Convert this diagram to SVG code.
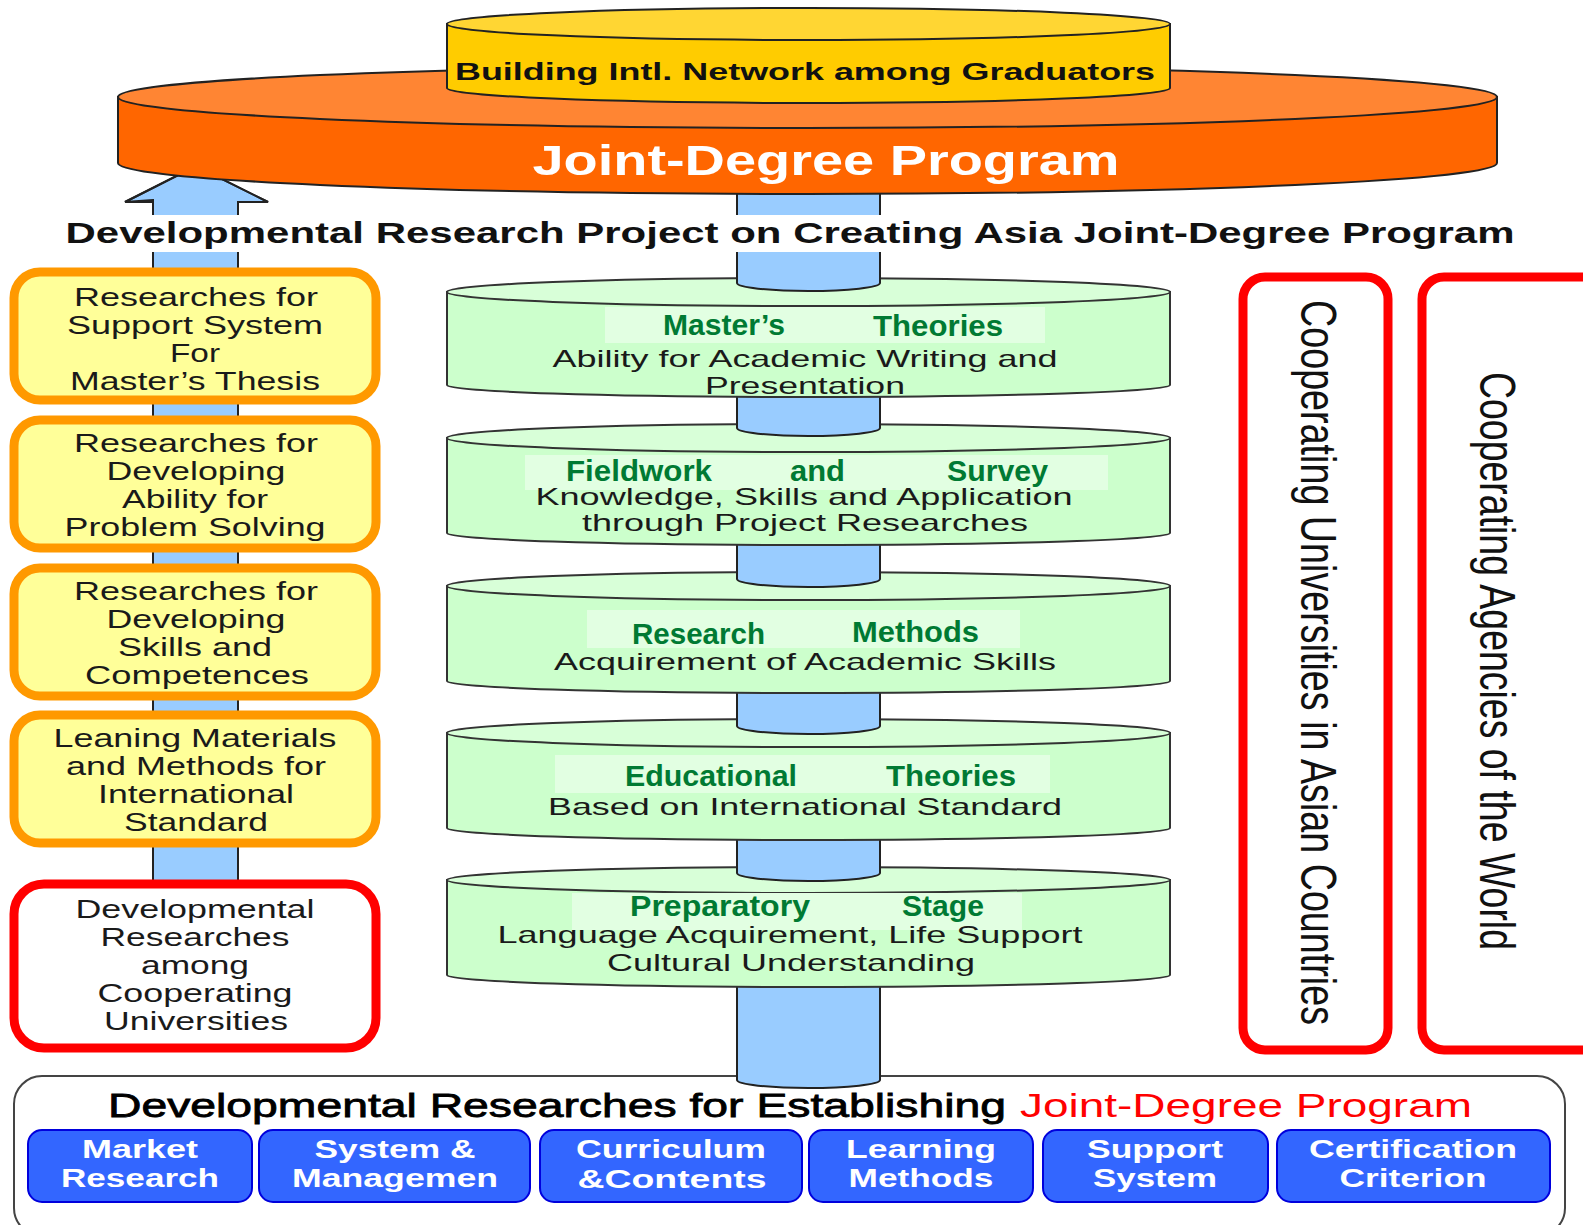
<svg xmlns="http://www.w3.org/2000/svg" width="1583" height="1225" viewBox="0 0 1583 1225">
<style>
text{font-family:"Liberation Sans",Arial,sans-serif;}
.lb{font-size:25px;fill:#1a1a1a;text-anchor:middle;}
.gw{font-size:29px;font-weight:bold;fill:#007A33;}
.gs{font-size:24px;fill:#1a1a1a;text-anchor:middle;}
.bt{font-size:26px;font-weight:bold;fill:#fff;text-anchor:middle;}
.vt{font-size:50px;fill:#111;}
.cylb{fill:#CCFFCC;stroke:#333;stroke-width:2;}
.cylt{fill:#D8FFD8;stroke:#333;stroke-width:2;}
.txbg{fill:#E2FFE2;}
.seg{fill:#99CCFF;stroke:#222;stroke-width:2;}
.ybox{fill:#FFFF99;stroke:#FF9900;stroke-width:9;}
.rbox{fill:#fff;stroke:#FF0000;stroke-width:9;}
.btn{fill:#3366FF;stroke:#0000DD;stroke-width:2;}
</style>
<rect x="0" y="0" width="1583" height="1225" fill="#fff"/>

<!-- bottom box -->
<g id="bottom-panel">
<rect x="14" y="1076" width="1551" height="160" rx="28" fill="#fff" stroke="#444" stroke-width="2"/>
<text x="108" y="1117" font-size="34" fill="#000" stroke="#000" stroke-width="0.8" textLength="898" lengthAdjust="spacingAndGlyphs">Developmental Researches for Establishing</text>
<text x="1020" y="1117" font-size="34" fill="#FF0000" textLength="452" lengthAdjust="spacingAndGlyphs">Joint-Degree Program</text>
</g>
<g id="btn-market"><rect class="btn" x="28" y="1130" width="224" height="72" rx="14"/><text class="bt" x="140" y="1158" textLength="116" lengthAdjust="spacingAndGlyphs">Market</text><text class="bt" x="140" y="1187" textLength="158" lengthAdjust="spacingAndGlyphs">Research</text></g>
<g id="btn-system"><rect class="btn" x="259" y="1130" width="271" height="72" rx="14"/><text class="bt" x="395" y="1158" textLength="161" lengthAdjust="spacingAndGlyphs">System &amp;</text><text class="bt" x="395" y="1187" textLength="206" lengthAdjust="spacingAndGlyphs">Managemen</text></g>
<g id="btn-curriculum"><rect class="btn" x="540" y="1130" width="262" height="72" rx="14"/><text class="bt" x="671" y="1158" textLength="190" lengthAdjust="spacingAndGlyphs">Curriculum</text><text class="bt" x="672" y="1188" textLength="189" lengthAdjust="spacingAndGlyphs">&amp;Contents</text></g>
<g id="btn-learning"><rect class="btn" x="809" y="1130" width="224" height="72" rx="14"/><text class="bt" x="921" y="1158" textLength="150" lengthAdjust="spacingAndGlyphs">Learning</text><text class="bt" x="921" y="1187" textLength="145" lengthAdjust="spacingAndGlyphs">Methods</text></g>
<g id="btn-support"><rect class="btn" x="1043" y="1130" width="225" height="72" rx="14"/><text class="bt" x="1155" y="1158" textLength="136" lengthAdjust="spacingAndGlyphs">Support</text><text class="bt" x="1155" y="1187" textLength="124" lengthAdjust="spacingAndGlyphs">System</text></g>
<g id="btn-cert"><rect class="btn" x="1277" y="1130" width="273" height="72" rx="14"/><text class="bt" x="1413" y="1158" textLength="208" lengthAdjust="spacingAndGlyphs">Certification</text><text class="bt" x="1413" y="1187" textLength="147" lengthAdjust="spacingAndGlyphs">Criterion</text></g>

<!-- connectors: arrow shaft and central column -->
<g id="connectors">
<path class="seg" d="M153,200 L125,202 L196,166 L268,202 L238,202 L238,885 L153,885 Z" stroke="none"/>
<path d="M125,202 L196,166 L268,202 L238,202 M153,202 L125,202" fill="none" stroke="#222" stroke-width="2"/>
<line x1="153" y1="202" x2="153" y2="885" stroke="#222" stroke-width="2"/>
<line x1="238" y1="202" x2="238" y2="885" stroke="#222" stroke-width="2"/>
<path class="seg" d="M737,975 V1080 A71.5,8 0 0 0 880,1080 V975"/>
</g>

<!-- cylinder 5 -->
<g id="stage-preparatory">
<path class="cylb" d="M447,880 V975 A361.5,12 0 0 0 1170,975 V880 Z"/>
<ellipse class="cylt" cx="808.5" cy="880" rx="361.5" ry="13"/>
<rect class="txbg" x="572" y="893" width="450" height="37"/>
<text class="gw" x="630" y="916" textLength="180" lengthAdjust="spacingAndGlyphs">Preparatory</text>
<text class="gw" x="902" y="916" textLength="82" lengthAdjust="spacingAndGlyphs">Stage</text>
<text class="gs" x="790" y="943" textLength="585" lengthAdjust="spacingAndGlyphs">Language Acquirement, Life Support</text>
<text class="gs" x="791" y="971" textLength="368" lengthAdjust="spacingAndGlyphs">Cultural Understanding</text>
</g>
<path class="seg" d="M737,830 V873 A71.5,8 0 0 0 880,873 V830"/>

<!-- cylinder 4 -->
<g id="stage-educational">
<path class="cylb" d="M447,733 V828 A361.5,12 0 0 0 1170,828 V733 Z"/>
<ellipse class="cylt" cx="808.5" cy="733" rx="361.5" ry="14"/>
<rect class="txbg" x="555" y="755" width="495" height="38"/>
<text class="gw" x="625" y="786" textLength="172" lengthAdjust="spacingAndGlyphs">Educational</text>
<text class="gw" x="886" y="786" textLength="130" lengthAdjust="spacingAndGlyphs">Theories</text>
<text class="gs" x="805" y="815" textLength="514" lengthAdjust="spacingAndGlyphs">Based on International Standard</text>
</g>
<path class="seg" d="M737,683 V726 A71.5,8 0 0 0 880,726 V683"/>

<!-- cylinder 3 -->
<g id="stage-research">
<path class="cylb" d="M447,586 V681 A361.5,12 0 0 0 1170,681 V586 Z"/>
<ellipse class="cylt" cx="808.5" cy="586" rx="361.5" ry="14"/>
<rect class="txbg" x="587" y="610" width="433" height="38"/>
<text class="gw" x="632" y="644" textLength="133" lengthAdjust="spacingAndGlyphs">Research</text>
<text class="gw" x="852" y="642" textLength="127" lengthAdjust="spacingAndGlyphs">Methods</text>
<text class="gs" x="805" y="670" textLength="502" lengthAdjust="spacingAndGlyphs">Acquirement of Academic Skills</text>
</g>
<path class="seg" d="M737,535 V579 A71.5,8 0 0 0 880,579 V535"/>

<!-- cylinder 2 -->
<g id="stage-fieldwork">
<path class="cylb" d="M447,438 V533 A361.5,12 0 0 0 1170,533 V438 Z"/>
<ellipse class="cylt" cx="808.5" cy="438" rx="361.5" ry="14"/>
<rect class="txbg" x="525" y="455" width="583" height="35"/>
<text class="gw" x="566" y="481" textLength="146" lengthAdjust="spacingAndGlyphs">Fieldwork</text>
<text class="gw" x="790" y="481" textLength="55" lengthAdjust="spacingAndGlyphs">and</text>
<text class="gw" x="947" y="481" textLength="101" lengthAdjust="spacingAndGlyphs">Survey</text>
<text class="gs" x="804" y="505" textLength="537" lengthAdjust="spacingAndGlyphs">Knowledge, Skills and Application</text>
<text class="gs" x="805" y="531" textLength="446" lengthAdjust="spacingAndGlyphs">through Project Researches</text>
</g>
<path class="seg" d="M737,387 V428 A71.5,8 0 0 0 880,428 V387"/>

<!-- cylinder 1 -->
<g id="stage-masters">
<path class="cylb" d="M447,292 V385 A361.5,12 0 0 0 1170,385 V292 Z"/>
<ellipse class="cylt" cx="808.5" cy="292" rx="361.5" ry="14"/>
<rect class="txbg" x="605" y="307" width="440" height="36"/>
<text class="gw" x="663" y="335" textLength="122" lengthAdjust="spacingAndGlyphs">Master’s</text>
<text class="gw" x="873" y="336" textLength="130" lengthAdjust="spacingAndGlyphs">Theories</text>
<text class="gs" x="805" y="367" textLength="505" lengthAdjust="spacingAndGlyphs">Ability for Academic Writing and</text>
<text class="gs" x="805" y="394" textLength="200" lengthAdjust="spacingAndGlyphs">Presentation</text>
</g>
<path class="seg" d="M737,180 V283 A71.5,8 0 0 0 880,283 V180"/>

<!-- orange cylinder -->
<g id="joint-degree">
<path d="M118,97 V163 A689.5,31 0 0 0 1497,163 V97 Z" fill="#FF6600" stroke="#222" stroke-width="2"/>
<ellipse cx="807.5" cy="97" rx="689.5" ry="31" fill="#FF8533" stroke="#222" stroke-width="2"/>
<text x="826" y="175" font-size="42" font-weight="bold" fill="#fff" text-anchor="middle" textLength="587" lengthAdjust="spacingAndGlyphs">Joint-Degree Program</text>
</g>

<!-- yellow cylinder -->
<g id="network">
<path d="M447,24 V88 A361.5,15 0 0 0 1170,88 V24 Z" fill="#FFCC00" stroke="#222" stroke-width="2"/>
<ellipse cx="808.5" cy="24" rx="361.5" ry="16" fill="#FFD633" stroke="#222" stroke-width="2"/>
<text x="805" y="80" font-size="24" font-weight="bold" fill="#111" text-anchor="middle" textLength="700" lengthAdjust="spacingAndGlyphs">Building Intl. Network among Graduators</text>
</g>

<!-- header -->
<g id="header">
<rect x="58" y="215" width="1465" height="37" fill="#fff"/>
<text x="790" y="243" font-size="30" font-weight="bold" fill="#111" text-anchor="middle" textLength="1449" lengthAdjust="spacingAndGlyphs">Developmental Research Project on Creating Asia Joint-Degree Program</text>
</g>

<!-- left boxes -->
<g id="box-thesis">
<rect class="ybox" x="14" y="272" width="362" height="128" rx="26"/>
<text class="lb" x="196" y="306" textLength="244" lengthAdjust="spacingAndGlyphs">Researches for</text>
<text class="lb" x="195" y="334" textLength="256" lengthAdjust="spacingAndGlyphs">Support System</text>
<text class="lb" x="195" y="362" textLength="50" lengthAdjust="spacingAndGlyphs">For</text>
<text class="lb" x="195" y="390" textLength="250" lengthAdjust="spacingAndGlyphs">Master’s Thesis</text>
</g>
<g id="box-problem">
<rect class="ybox" x="14" y="420" width="362" height="128" rx="26"/>
<text class="lb" x="196" y="452" textLength="244" lengthAdjust="spacingAndGlyphs">Researches for</text>
<text class="lb" x="196" y="480" textLength="179" lengthAdjust="spacingAndGlyphs">Developing</text>
<text class="lb" x="195" y="508" textLength="146" lengthAdjust="spacingAndGlyphs">Ability for</text>
<text class="lb" x="195" y="536" textLength="261" lengthAdjust="spacingAndGlyphs">Problem Solving</text>
</g>
<g id="box-skills">
<rect class="ybox" x="14" y="568" width="362" height="128" rx="26"/>
<text class="lb" x="196" y="600" textLength="244" lengthAdjust="spacingAndGlyphs">Researches for</text>
<text class="lb" x="196" y="628" textLength="179" lengthAdjust="spacingAndGlyphs">Developing</text>
<text class="lb" x="195" y="656" textLength="154" lengthAdjust="spacingAndGlyphs">Skills and</text>
<text class="lb" x="197" y="684" textLength="224" lengthAdjust="spacingAndGlyphs">Competences</text>
</g>
<g id="box-materials">
<rect class="ybox" x="14" y="715" width="362" height="128" rx="26"/>
<text class="lb" x="195" y="747" textLength="283" lengthAdjust="spacingAndGlyphs">Leaning Materials</text>
<text class="lb" x="196" y="775" textLength="260" lengthAdjust="spacingAndGlyphs">and Methods for</text>
<text class="lb" x="196" y="803" textLength="196" lengthAdjust="spacingAndGlyphs">International</text>
<text class="lb" x="196" y="831" textLength="144" lengthAdjust="spacingAndGlyphs">Standard</text>
</g>
<g id="box-cooperating">
<rect class="rbox" x="14" y="884" width="362" height="164" rx="30"/>
<text class="lb" x="195" y="918" textLength="239" lengthAdjust="spacingAndGlyphs">Developmental</text>
<text class="lb" x="195" y="946" textLength="189" lengthAdjust="spacingAndGlyphs">Researches</text>
<text class="lb" x="195" y="974" textLength="108" lengthAdjust="spacingAndGlyphs">among</text>
<text class="lb" x="195" y="1002" textLength="195" lengthAdjust="spacingAndGlyphs">Cooperating</text>
<text class="lb" x="196" y="1030" textLength="184" lengthAdjust="spacingAndGlyphs">Universities</text>
</g>

<!-- right vertical boxes -->
<g id="box-universities">
<rect class="rbox" x="1243" y="277" width="145" height="773" rx="22"/>
<text class="vt" transform="translate(1301,300) rotate(90)" x="0" y="0" textLength="725" lengthAdjust="spacingAndGlyphs">Cooperating Universities in Asian Countries</text>
</g>
<g id="box-agencies">
<rect class="rbox" x="1422" y="277" width="190" height="773" rx="22"/>
<text class="vt" transform="translate(1480,372) rotate(90)" x="0" y="0" textLength="578" lengthAdjust="spacingAndGlyphs">Cooperating Agencies of the World</text>
</g>
</svg>
